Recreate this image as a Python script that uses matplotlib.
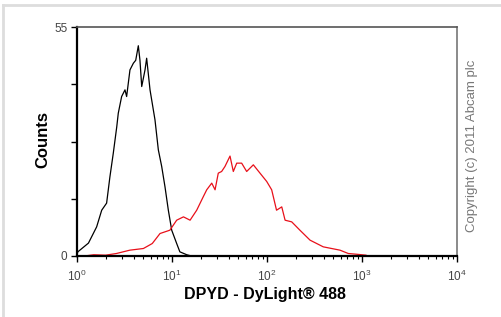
import numpy as np
import matplotlib
matplotlib.use('Agg')
import matplotlib.pyplot as plt
from matplotlib.lines import Line2D

plt.rcParams['font.family'] = ['Liberation Sans', 'DejaVu Sans']
plt.rcParams['mathtext.fontset'] = 'custom'
plt.rcParams['mathtext.rm'] = 'Liberation Sans'

# isotype / unstained control (black)
ctrl_x = [1.0, 1.02, 1.32, 1.61, 1.82, 2.05, 2.22, 2.41, 2.62, 2.72, 2.95, 3.2, 3.33,
          3.61, 3.92, 4.15, 4.42, 4.6, 4.8, 5.2, 5.41, 5.87, 6.62, 7.18, 7.79, 8.44,
          9.15, 9.93, 11.2, 12.1, 14.3, 16.0]
ctrl_y = [0.3, 1.0, 3.1, 7.0, 11.0, 12.7, 19.0, 24.7, 31.0, 34.3, 38.3, 39.9, 38.3,
          44.7, 46.3, 47.0, 50.5, 47.0, 40.7, 44.7, 47.5, 39.9, 32.7, 25.5, 21.5, 16.6,
          11.0, 6.2, 3.0, 1.0, 0.3, 0.0]

# DPYD stained sample (red)
dpyd_x = [1.2, 1.5, 2.0, 2.6, 3.6, 5.0, 6.2, 7.48, 9.5, 11.2, 13.2, 15.5, 18.2, 21.3,
          23.2, 26.2, 28.4, 30.7, 33.3, 36.1, 40.8, 44.2, 48.0, 54.1, 61.1, 71.8, 84.4,
          99.3, 112, 126, 143, 155, 182, 222, 284, 391, 587, 717, 900, 1100]
dpyd_y = [0.0, 0.3, 0.2, 0.6, 1.4, 1.8, 3.0, 5.4, 6.2, 8.6, 9.4, 8.6, 11.0, 14.2,
          15.9, 17.5, 15.9, 19.9, 20.3, 21.5, 24.0, 20.3, 22.3, 22.3, 20.3, 21.9, 19.9,
          17.9, 15.9, 11.0, 11.8, 8.6, 8.2, 6.2, 3.8, 2.2, 1.4, 0.6, 0.4, 0.2]

y_ticks = [0, 13.75, 27.5, 41.25, 55]
y_ticklabels = ['0', '', '', '', '55']
x_ticks = [1, 10, 100, 1000, 10000]
x_ticklabels = [r'$\mathregular{10^{%d}}$' % i for i in range(5)]

fig = plt.figure(figsize=(5.02, 3.17), dpi=100)
ax = fig.add_axes([77 / 502, 61 / 317, 380 / 502, 229 / 317])

ax.plot(ctrl_x, ctrl_y, color='black', lw=0.9)
ax.plot(dpyd_x, dpyd_y, color='#e8101a', lw=0.9)

ax.set_xscale('log')
ax.set_xlim(1, 1e4)
ax.set_ylim(0, 55)
ax.set_xticks(x_ticks)
ax.set_xticklabels(x_ticklabels)
ax.set_yticks(y_ticks)
ax.set_yticklabels(y_ticklabels)

ax.tick_params(axis='both', which='major', direction='out', length=4, width=1,
               labelsize=8.5, labelcolor='#444444', color='black')
ax.tick_params(axis='x', which='major', pad=5)
ax.tick_params(axis='x', which='minor', direction='out', length=2.5, width=0.8, color='black')
ax.tick_params(axis='y', pad=3)

for s in ['left', 'bottom']:
    ax.spines[s].set_linewidth(1.6)
    ax.spines[s].set_color('black')
ax.spines['top'].set_color('#555555')
ax.spines['top'].set_linewidth(1.2)
ax.spines['right'].set_color('#777777')
ax.spines['right'].set_linewidth(1.2)

ax.set_xlabel('DPYD - DyLight\u00ae 488', fontsize=11.5, fontweight='bold', va='center')
ax.xaxis.set_label_coords(0.495, -39 / 229)
ax.set_ylabel('Counts', fontsize=12, fontweight='bold', va='center')
ax.yaxis.set_label_coords(-34 / 380, 116 / 229)

fig.text(472 / 502, 1 - 146 / 317, 'Copyright (c) 2011 Abcam plc', rotation=90,
         ha='center', va='center', fontsize=9.5, color='#777777')

# light grey frame of the picture
fig.add_artist(Line2D([3.5 / 502, 3.5 / 502], [0, 1 - 5 / 317], color='#dddddd', lw=2))
fig.add_artist(Line2D([3.5 / 502, 1], [1 - 5 / 317, 1 - 5 / 317], color='#dddddd', lw=2))

fig.savefig('out.png', dpi=100)
